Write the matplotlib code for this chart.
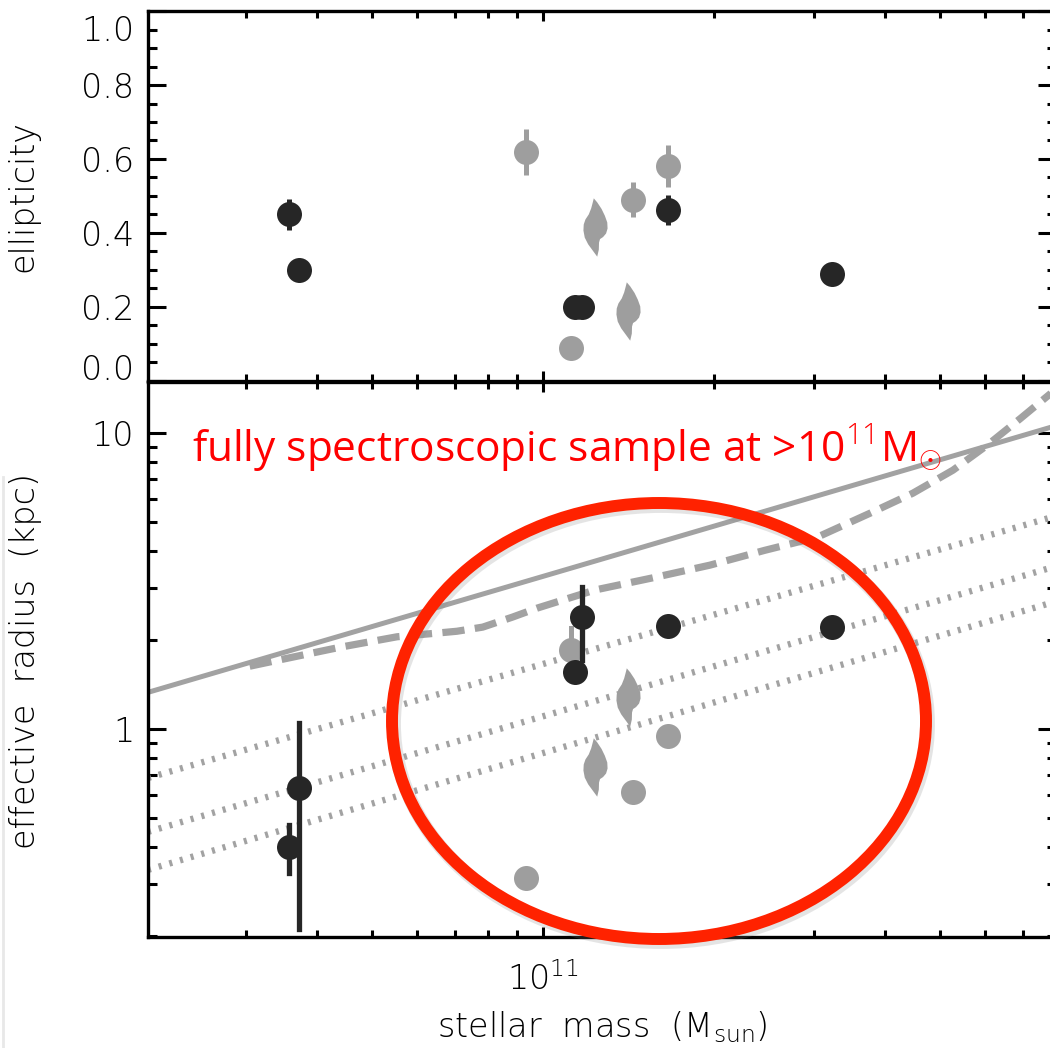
import matplotlib
matplotlib.use("Agg")
import matplotlib.pyplot as plt
from matplotlib.patches import Ellipse
from matplotlib.path import Path
from matplotlib.lines import Line2D
from matplotlib.ticker import LogLocator, FixedLocator, MultipleLocator, NullFormatter
import matplotlib.transforms as mtransforms
import numpy as np

plt.rcParams['font.family'] = ['DejaVu Sans']
plt.rcParams['font.weight'] = 'light'
plt.rcParams['axes.labelweight'] = 'light'
plt.rcParams['mathtext.fontset'] = 'dejavusans'
plt.rcParams['mathtext.rm'] = 'Open Sans'
plt.rcParams['lines.scale_dashes'] = False

# black points (spectroscopic)
black_mass = [3.57e10, 3.73e10, 1.14e11, 1.17e11, 1.66e11, 3.23e11]
black_ell = [0.451, 0.30, 0.20, 0.20, 0.462, 0.289]
black_ell_err = [0.042, 0, 0, 0, 0.04, 0]
black_re = [0.40, 0.632, 1.56, 2.39, 2.23, 2.21]
black_re_lo = [0.327, 0.211, 1.56, 1.71, 2.23, 2.21]
black_re_hi = [0.474, 1.05, 1.56, 3.02, 2.23, 2.21]

# grey points, the "comma" ones are flagged
grey_mass = [9.33e10, 1.12e11, 1.235e11, 1.41e11, 1.44e11, 1.66e11]
grey_ell = [0.62, 0.09, 0.417, 0.19, 0.49, 0.58]
grey_ell_err = [0.062, 0, 0, 0, 0.047, 0.057]
grey_re = [0.314, 1.85, 0.745, 1.28, 0.612, 0.947]
grey_re_lo = [0.314, 1.56, 0.745, 1.28, 0.612, 0.947]
grey_re_hi = [0.314, 2.19, 0.745, 1.28, 0.612, 0.947]
grey_comma = [False, False, True, True, False, False]

# local relation and its shifted copies (endpoints)
rel_mass = [2.02e10, 8.0e11]
rel_solid = [1.33, 10.6]
rel_dot1 = [0.683, 5.25]
rel_dot2 = [0.449, 3.55]
rel_dot3 = [0.334, 2.70]

# dashed curve
dash_mass = [3.05e10, 3.48e10, 4.40e10, 5.54e10, 7.06e10, 7.84e10, 8.85e10, 9.76e10,
             1.235e11, 1.557e11, 1.968e11, 2.46e11, 3.04e11, 3.77e11, 4.48e11,
             5.27e11, 6.05e11, 6.92e11, 7.82e11, 8.0e11]
dash_re = [1.63, 1.72, 1.89, 2.05, 2.14, 2.21, 2.39, 2.56, 2.95, 3.24, 3.58, 4.02,
           4.45, 5.37, 6.27, 7.50, 9.10, 11.2, 13.6, 14.2]

BLACK = '#262626'
GREY = '#9e9e9e'
LINE = '#a2a2a2'

# comma-shaped marker outline (pixel offsets from the centre)
comma_verts = [(-1.7, 29), (1.7, 25), (6, 18.5), (9.3, 11.7), (11.7, 5), (12, -1),
               (10.5, -6), (7.5, -9.5), (4.5, -11.5), (3.5, -15), (3.3, -22), (1.7, -29),
               (-2.7, -23), (-7.3, -16.7), (-10.7, -10), (-12, -3), (-11.7, 3),
               (-10, 8), (-6.7, 13), (-4.3, 19), (-2.7, 25), (-1.7, 29)]
comma = Path(comma_verts, closed=True)

W, H = 1050, 1048
fig = plt.figure(figsize=(W / 100, H / 100), dpi=100)
ax1 = fig.add_axes([148 / W, 1 - 381 / H, 908 / W, 370 / H])
ax2 = fig.add_axes([148 / W, 1 - 937 / H, 908 / W, 555 / H], sharex=ax1)

ms = 18
ms_comma = 42

# top panel
for i in range(len(grey_mass)):
    if grey_ell_err[i] > 0:
        ax1.errorbar(grey_mass[i], grey_ell[i], yerr=grey_ell_err[i], fmt='none',
                     ecolor=GREY, elinewidth=3.6, capsize=0)
    if grey_comma[i]:
        ax1.plot(grey_mass[i], grey_ell[i], marker=comma, ms=ms_comma, color=GREY, mec='none', ls='none')
    else:
        ax1.plot(grey_mass[i], grey_ell[i], 'o', ms=ms, color=GREY, mec='none')
for i in range(len(black_mass)):
    if black_ell_err[i] > 0:
        ax1.errorbar(black_mass[i], black_ell[i], yerr=black_ell_err[i], fmt='none',
                     ecolor=BLACK, elinewidth=3.6, capsize=0)
    ax1.plot(black_mass[i], black_ell[i], 'o', ms=ms, color=BLACK, mec='none')

# bottom panel
ax2.plot(rel_mass, rel_dot1, color=LINE, lw=4.6, dashes=(2.2, 5.8))
ax2.plot(rel_mass, rel_dot2, color=LINE, lw=4.6, dashes=(2.2, 5.8))
ax2.plot(rel_mass, rel_dot3, color=LINE, lw=4.6, dashes=(2.2, 5.8))
ax2.plot(rel_mass, rel_solid, color=LINE, lw=3.6)
ax2.plot(dash_mass, dash_re, color=LINE, lw=5.2, dashes=(16, 7.5))

for i in range(len(grey_mass)):
    if grey_re_hi[i] != grey_re_lo[i]:
        ax2.plot([grey_mass[i]] * 2, [grey_re_lo[i], grey_re_hi[i]], color=GREY, lw=3.6)
    if grey_comma[i]:
        ax2.plot(grey_mass[i], grey_re[i], marker=comma, ms=ms_comma, color=GREY, mec='none', ls='none')
    else:
        ax2.plot(grey_mass[i], grey_re[i], 'o', ms=ms, color=GREY, mec='none')
for i in range(len(black_mass)):
    if black_re_hi[i] != black_re_lo[i]:
        ax2.plot([black_mass[i]] * 2, [black_re_lo[i], black_re_hi[i]], color=BLACK, lw=3.8)
    ax2.plot(black_mass[i], black_re[i], 'o', ms=ms, color=BLACK, mec='none')

# axes
ax1.set_xscale('log')
ax1.set_xlim(2.02e10, 8.0e11)
ax1.set_ylim(0, 1)
ax2.set_yscale('log')
ax2.set_ylim(0.198, 14.9)

for ax in (ax1, ax2):
    for s in ax.spines.values():
        s.set_linewidth(2.4)
    ax.tick_params(which='both', direction='in', top=True, right=True, width=2.2)
    ax.tick_params(axis='x', which='major', length=7.5)
    ax.tick_params(axis='x', which='minor', length=5)
    ax.tick_params(axis='y', which='major', length=13)
    ax.tick_params(axis='y', which='minor', length=6.5)
    ax.tick_params(labelsize=24, pad=10)
    ax.xaxis.set_major_locator(FixedLocator([1e11]))
    ax.xaxis.set_minor_locator(LogLocator(base=10, subs=np.arange(2, 10)))
    ax.xaxis.set_minor_formatter(NullFormatter())

ax1.tick_params(axis='x', labelbottom=False)
ax1.yaxis.set_minor_locator(MultipleLocator(0.05))
ax1.set_yticks([0, 0.2, 0.4, 0.6, 0.8, 1.0])
ax1.set_yticklabels(['0.0', '0.2', '0.4', '0.6', '0.8', '1.0'])

ax2.yaxis.set_major_locator(FixedLocator([1, 10]))
ax2.yaxis.set_minor_locator(LogLocator(base=10, subs=np.arange(2, 10)))
ax2.yaxis.set_minor_formatter(NullFormatter())
ax2.set_yticklabels(['1', '10'])
ax2.set_xticklabels([r'$10^{11}$'])
ax2.tick_params(axis='x', pad=18)

# shift end labels of the top panel inward like the original
ticks = ax1.yaxis.get_major_ticks()
ticks[0].label1.set_transform(ticks[0].label1.get_transform() +
                              mtransforms.ScaledTranslation(0, 0.14, fig.dpi_scale_trans))
ticks[-1].label1.set_transform(ticks[-1].label1.get_transform() +
                               mtransforms.ScaledTranslation(0, -0.17, fig.dpi_scale_trans))

ax1.set_ylabel('ellipticity', fontsize=24)
ax1.yaxis.set_label_coords(-0.12, 0.5)
ax2.set_ylabel('effective  radius  (kpc)', fontsize=24)
ax2.yaxis.set_label_coords(-0.117, 0.497)
ax2.set_xlabel(r'stellar  mass  (M$_{\rm sun}$)', fontsize=24)
ax2.xaxis.set_label_coords(0.5, -0.162)
ax2.xaxis.label.set_verticalalignment('center')

# annotation
fig.text(192 / W, 1 - 462 / H, r'fully spectroscopic sample at >10$^{11}$M$_{\odot}$',
         color='red', fontsize=30.5, family='Open Sans', weight='normal',
         math_fontfamily='custom', ha='left', va='baseline')
fig.add_artist(Ellipse((661 / W, 1 - 724 / H), 534 / W, 436 / H, transform=fig.transFigure,
                       fill=False, ec='#888888', alpha=0.22, lw=10))
fig.add_artist(Ellipse((659 / W, 1 - 721 / H), 534 / W, 436 / H, transform=fig.transFigure,
                       fill=False, ec='#ff2200', lw=8.6))
fig.add_artist(Line2D([3 / W, 3 / W], [0, 1 - 477 / H], transform=fig.transFigure,
                      color='#e8e8e8', lw=2))

fig.savefig('out.png', dpi=100)
